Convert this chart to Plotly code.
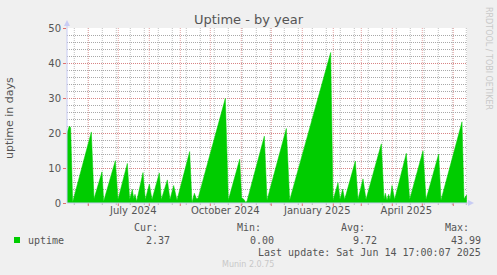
import plotly.graph_objects as go
import pandas as pd

# ---------------- data ----------------
dates = [
    "2024-05-10 17:00", "2024-05-13 01:00", "2024-05-14 09:00",
    "2024-05-16 09:00", "2024-06-04 01:00",
    "2024-06-06 17:00", "2024-06-14 17:00",
    "2024-06-16 09:00", "2024-06-28 01:00",
    "2024-06-30 17:00", "2024-07-10 01:00",
    "2024-07-12 09:00", "2024-07-15 01:00",
    "2024-07-16 09:00", "2024-07-17 17:00",
    "2024-07-19 09:00", "2024-07-25 17:00",
    "2024-07-28 01:00", "2024-08-01 01:00",
    "2024-08-03 17:00", "2024-08-11 01:00",
    "2024-08-13 01:00", "2024-08-19 01:00",
    "2024-08-21 17:00", "2024-08-25 09:00",
    "2024-08-28 17:00", "2024-09-10 09:00",
    "2024-09-12 17:00", "2024-09-15 01:00", "2024-09-17 01:00",
    "2024-09-18 17:00", "2024-10-16 01:00",
    "2024-10-19 01:00", "2024-10-30 09:00",
    "2024-11-01 09:00", "2024-11-03 17:00", "2024-11-05 09:00",
    "2024-11-06 17:00", "2024-11-24 01:00",
    "2024-11-26 17:00", "2024-12-16 01:00",
    "2024-12-19 09:00", "2025-01-29 09:00",
    "2025-01-31 17:00", "2025-02-05 17:00",
    "2025-02-07 17:00", "2025-02-10 09:00",
    "2025-02-12 09:00", "2025-02-23 01:00",
    "2025-02-25 17:00", "2025-03-02 17:00",
    "2025-03-05 17:00", "2025-03-21 01:00",
    "2025-03-23 17:00", "2025-03-25 01:00", "2025-03-26 17:00",
    "2025-03-28 09:00", "2025-03-29 17:00", "2025-03-31 17:00",
    "2025-04-03 09:00", "2025-04-15 01:00",
    "2025-04-18 09:00", "2025-05-01 17:00",
    "2025-05-04 17:00", "2025-05-17 09:00",
    "2025-05-19 17:00", "2025-06-09 17:00",
    "2025-06-11 17:00", "2025-06-14 12:00",
]
uptime_days = [
    20.0, 22.0, 21.5,
    0.3, 20.3,
    1.2, 8.9,
    0.5, 12.1,
    1.0, 11.3,
    1.0, 3.9,
    1.2, 2.5,
    0.5, 8.7,
    1.0, 5.4,
    1.0, 8.6,
    1.0, 6.6,
    1.0, 5.0,
    0.8, 14.7,
    0.1, 2.8, 1.3,
    1.3, 29.9,
    0.8, 12.5,
    1.5, 1.0, 0.2,
    0.5, 19.1,
    0.8, 21.3,
    0.8, 43.0,
    0.8, 5.8,
    1.0, 4.0,
    1.0, 12.0,
    1.0, 6.9,
    1.0, 16.9,
    1.0, 2.8, 0.8,
    2.5, 1.0, 5.0,
    1.0, 14.2,
    1.0, 14.9,
    1.0, 14.0,
    0.8, 23.2,
    1.2, 2.37,
]

x_range = ["2024-05-10 17:00", "2025-06-14 17:00"]
y_ticks = [0, 10, 20, 30, 40, 50]
x_label_dates = ["2024-07-16", "2024-10-16", "2025-01-16", "2025-04-15"]
x_label_text = ["July 2024", "October 2024", "January 2025", "April 2025"]

series_name = "uptime"
stat_names = ["Cur:", "Min:", "Avg:", "Max:"]
stat_values = ["2.37", "0.00", "9.72", "43.99"]
last_update = "Last update: Sat Jun 14 17:00:07 2025"
title_text = "Uptime - by year"
y_title = "uptime in days"
side_text = "RRDTOOL / TOBI OETIKER"
footer_text = "Munin 2.0.75"

# ---------------- geometry helpers ----------------
W, H = 497, 275
L, R, T, B = 67, 467, 28, 203


def px(x):
    return (x - L) / (R - L)


def py(y):
    return (B - y) / (B - T)


GREEN = "#00CC00"
TXT = "#555555"
MONO = "DejaVu Sans Mono"
SANS = "DejaVu Sans"
MAJ_H = "#D88484"
MIN_H = "#A8A8A8"
MAJ_V = "#E4A4A4"
MIN_V = "#C0C0C0"
AXC = "#C8CCF4"
DASH = "1px,1px"

fig = go.Figure()
fig.add_trace(go.Scatter(
    x=pd.to_datetime(dates), y=uptime_days, mode="lines",
    line=dict(color=GREEN, width=0.5), fill="tozeroy", fillcolor=GREEN,
    name=series_name, showlegend=False, hoverinfo="skip",
))

shapes = []
# vertical minor grid (every two weeks) and major grid (month starts)
minor_x = pd.date_range("2024-05-18", "2025-06-14", freq="14D")
major_x = pd.date_range("2024-06-01", "2025-06-01", freq="MS")
for d in minor_x:
    shapes.append(dict(type="line", xref="x", yref="paper", x0=d, x1=d, y0=0, y1=1,
                       layer="below", line=dict(color=MIN_V, width=1, dash=DASH)))
    shapes.append(dict(type="line", xref="x", yref="paper", x0=d, x1=d, y0=0, y1=-2 / 175,
                       line=dict(color="#BBBBBB", width=1)))
for d in major_x:
    shapes.append(dict(type="line", xref="x", yref="paper", x0=d, x1=d, y0=0, y1=1,
                       layer="below", line=dict(color=MAJ_V, width=1, dash=DASH)))
    shapes.append(dict(type="line", xref="x", yref="paper", x0=d, x1=d, y0=0, y1=-3 / 175,
                       line=dict(color="#E07070", width=1)))

# axis lines with arrows
shapes.append(dict(type="line", xref="paper", yref="paper", x0=0, x1=0, y0=0, y1=py(22),
                   line=dict(color=AXC, width=1)))
shapes.append(dict(type="line", xref="paper", yref="paper", x0=0, x1=px(470), y0=0, y1=0,
                   line=dict(color=AXC, width=1)))
shapes.append(dict(type="path", xref="paper", yref="paper",
                   path=f"M {px(64)} {py(26)} L {px(70)} {py(26)} L {px(67)} {py(20)} Z",
                   fillcolor=AXC, line=dict(color=AXC, width=0)))
shapes.append(dict(type="path", xref="paper", yref="paper",
                   path=f"M {px(468)} {py(200)} L {px(468)} {py(206)} L {px(474)} {py(203)} Z",
                   fillcolor=AXC, line=dict(color=AXC, width=0)))

# legend swatch
shapes.append(dict(type="rect", xref="paper", yref="paper",
                   x0=px(14), x1=px(20), y0=py(243), y1=py(237),
                   fillcolor=GREEN, line=dict(width=0)))


def note(text, x, y, xa="center", size=10, family=MONO, color=TXT, angle=0):
    return dict(text=text, x=px(x), y=py(y), xref="paper", yref="paper",
                xanchor=xa, yanchor="middle", textangle=angle, showarrow=False,
                font=dict(family=family, size=size, color=color))


ann = []
ann.append(note(y_title, 10, 118, size=11, family=SANS, angle=-90))
ann.append(note(side_text, 488, 58, size=8, family=SANS, color="#C8C8C8", angle=90))
ann.append(note(series_name, 26, 240, xa="left"))
name_right = [159.5, 263, 367, 471]
val_right = [172, 275.5, 379, 483]
for nm, v, xn, xv in zip(stat_names, stat_values, name_right, val_right):
    ann.append(note(nm, xn, 227, xa="right"))
    ann.append(note(v, xv, 240, xa="right"))
ann.append(note(last_update, 483, 252, xa="right"))
ann.append(note(footer_text, 248, 264, size=8, family=SANS, color="#C8C8C8"))

fig.update_layout(
    width=W, height=H,
    margin=dict(l=L, r=W - R, t=T, b=H - B, pad=0),
    paper_bgcolor="#F0F0F0", plot_bgcolor="white",
    title=dict(text=title_text, x=0.5, xanchor="center", xref="container",
               y=1 - 19 / H, yanchor="middle", yref="container",
               font=dict(family=SANS, size=13, color=TXT)),
    shapes=shapes, annotations=ann, showlegend=False,
    xaxis=dict(type="date", range=x_range, showgrid=False, zeroline=False, showline=False,
               tickvals=x_label_dates, ticktext=x_label_text, ticks="",
               tickfont=dict(family=SANS, size=10, color=TXT)),
    yaxis=dict(range=[0, 50], tickvals=y_ticks, showgrid=True, gridcolor=MAJ_H, griddash=DASH,
               zeroline=False, showline=False, ticks="outside", ticklen=3, tickcolor="#E07070",
               tickfont=dict(family=SANS, size=10, color=TXT),
               minor=dict(dtick=2, showgrid=True, gridcolor=MIN_H, griddash=DASH)),
)

fig.write_html("out.html")
